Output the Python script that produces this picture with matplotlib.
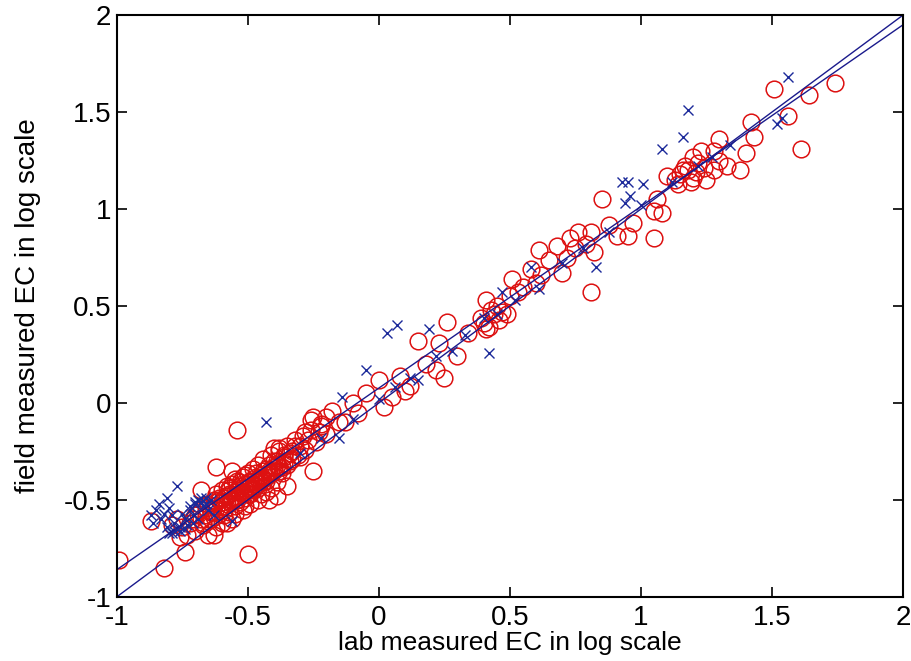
import matplotlib
matplotlib.use("Agg")
import matplotlib.pyplot as plt

plt.rcParams['font.family'] = ['Liberation Sans', 'DejaVu Sans']

# Red circles (lab vs field, log scale)
red_x = [-0.99, -0.82, -0.74, -0.63, -0.50, -0.87, -0.68, -0.62, -0.56, -0.54, -0.40, -0.26,
         -0.25, -0.35, -0.39, -0.42, -0.18, -0.38,
         -0.72, -0.70, -0.70, -0.68, -0.68, -0.67, -0.66, -0.65, -0.65, -0.64, -0.63, -0.63,
         -0.62, -0.62, -0.61, -0.60, -0.60, -0.59, -0.59, -0.58, -0.58, -0.57, -0.57, -0.56,
         -0.56, -0.55, -0.55, -0.54, -0.54, -0.53, -0.53, -0.52, -0.52, -0.51, -0.51, -0.50,
         -0.50, -0.49, -0.49, -0.48, -0.48, -0.47, -0.46, -0.46, -0.45, -0.44, -0.44, -0.43,
         -0.42, -0.41, -0.40, -0.39, -0.38, -0.37, -0.36, -0.35, -0.34, -0.33, -0.32, -0.31,
         -0.30, -0.29, -0.28, -0.27, -0.26, -0.24, -0.23, -0.22, -0.20, -0.75, -0.77, -0.73,
         -0.79, -0.76, -0.71, -0.65, -0.62, -0.58,
         -0.66, -0.64, -0.61, -0.59, -0.57, -0.55, -0.53, -0.52, -0.50, -0.49, -0.47, -0.46,
         -0.45, -0.43, -0.42, -0.41, -0.40, -0.39, -0.38, -0.37, -0.36, -0.35, -0.34, -0.33,
         -0.69, -0.67, -0.63, -0.60, -0.58, -0.56, -0.54, -0.51, -0.48, -0.47, -0.45, -0.43,
         -0.57, -0.55, -0.53, -0.51, -0.49, -0.47, -0.44, -0.42, -0.61, -0.59,
         -0.64, -0.62, -0.60, -0.58, -0.56, -0.54, -0.52, -0.50, -0.48, -0.46, -0.44, -0.42,
         -0.40, -0.38, -0.36, -0.55, -0.53, -0.51, -0.49, -0.47, -0.45, -0.43, -0.41, -0.39,
         -0.25, -0.13, -0.10, -0.05, 0.02, 0.00, 0.08, 0.12, 0.15, 0.22, 0.25, 0.23, 0.26,
         0.30, 0.34, 0.41, -0.15, -0.08, 0.05, 0.18, 0.10, -0.32, -0.28, -0.22, -0.20, -0.30,
         0.39, 0.41, 0.42, 0.46, 0.43, 0.45, 0.40, 0.44, 0.47, 0.49, 0.51, 0.58, 0.61, 0.65,
         0.68, 0.70, 0.72, 0.73, 0.76, 0.79, 0.81, 0.82, 0.81, 0.85, 0.91, 0.95, 0.97, 1.05,
         1.08, 1.06, 1.05, 1.14, 0.55, 0.62, 0.75, 0.88, 0.50, 0.53, 0.60,
         1.51, 1.64, 1.74, 1.56, 1.42, 1.61, 1.43, 1.40, 1.38, 1.30, 1.28, 1.23, 1.20, 1.30,
         1.25, 1.18, 1.28, 1.20, 1.33, 1.15, 1.17, 1.19, 1.22, 1.16, 1.21, 1.13, 1.24, 1.10]
red_y = [-0.81, -0.85, -0.77, -0.68, -0.78, -0.61, -0.45, -0.33, -0.35, -0.14, -0.23, -0.09,
         -0.35, -0.43, -0.48, -0.50, -0.04, -0.23,
         -0.62, -0.58, -0.66, -0.60, -0.55, -0.63, -0.58, -0.52, -0.61, -0.56, -0.50, -0.59,
         -0.54, -0.47, -0.57, -0.51, -0.45, -0.55, -0.49, -0.43, -0.52, -0.47, -0.56, -0.50,
         -0.42, -0.46, -0.53, -0.40, -0.48, -0.44, -0.51, -0.38, -0.46, -0.42, -0.49, -0.36,
         -0.44, -0.40, -0.47, -0.34, -0.42, -0.38, -0.44, -0.32, -0.40, -0.35, -0.29, -0.38,
         -0.32, -0.27, -0.35, -0.30, -0.25, -0.33, -0.28, -0.22, -0.30, -0.25, -0.19, -0.27,
         -0.22, -0.17, -0.24, -0.19, -0.14, -0.20, -0.15, -0.11, -0.16, -0.64, -0.60, -0.68,
         -0.63, -0.69, -0.60, -0.68, -0.64, -0.62,
         -0.54, -0.60, -0.50, -0.58, -0.45, -0.57, -0.41, -0.55, -0.47, -0.52, -0.43, -0.50,
         -0.37, -0.46, -0.36, -0.44, -0.30, -0.41, -0.33, -0.36, -0.31, -0.32, -0.26, -0.29,
         -0.57, -0.62, -0.53, -0.62, -0.48, -0.60, -0.50, -0.53, -0.45, -0.36, -0.47, -0.34,
         -0.44, -0.39, -0.46, -0.37, -0.43, -0.41, -0.39, -0.35, -0.49, -0.53,
         -0.56, -0.51, -0.53, -0.48, -0.50, -0.45, -0.47, -0.42, -0.44, -0.39, -0.41, -0.37,
         -0.33, -0.35, -0.27, -0.49, -0.43, -0.46, -0.41, -0.43, -0.38, -0.40, -0.36, -0.32,
         -0.07, -0.10, 0.00, 0.05, -0.02, 0.12, 0.14, 0.09, 0.32, 0.17, 0.13, 0.31, 0.42,
         0.24, 0.36, 0.38, -0.10, -0.05, 0.03, 0.20, 0.06, -0.22, -0.15, -0.12, -0.07, -0.28,
         0.44, 0.53, 0.39, 0.43, 0.48, 0.50, 0.41, 0.46, 0.47, 0.46, 0.64, 0.69, 0.79, 0.74,
         0.81, 0.67, 0.75, 0.85, 0.88, 0.82, 0.88, 0.78, 0.57, 1.05, 0.86, 0.86, 0.93, 0.99,
         0.98, 1.05, 0.85, 1.13, 0.60, 0.66, 0.80, 0.92, 0.55, 0.57, 0.62,
         1.62, 1.59, 1.65, 1.48, 1.45, 1.31, 1.37, 1.29, 1.20, 1.36, 1.30, 1.30, 1.27, 1.25,
         1.15, 1.20, 1.20, 1.16, 1.22, 1.18, 1.22, 1.14, 1.24, 1.20, 1.19, 1.15, 1.21, 1.17]

# Blue crosses
blue_x = [-0.77, -0.81, -0.84, -0.80, -0.85, -0.82, -0.79, -0.83, -0.78, -0.81, -0.80, -0.76,
          -0.74, -0.72, -0.70, -0.69, -0.67, -0.65, -0.66, -0.63, -0.56, -0.43, -0.87, -0.86,
          -0.75, -0.73, -0.71, -0.68, -0.66, -0.64, -0.77, -0.79, -0.71, -0.69,
          -0.72, -0.70, -0.68, -0.78, -0.76, -0.74,
          -0.14, -0.05, 0.03, 0.07, 0.19, 0.42, -0.15, -0.10, 0.00, 0.06, 0.12, 0.15, 0.22,
          0.28, 0.33, -0.30, -0.22, 0.47, 0.58, 0.61, 0.83, 0.96, 0.94, 1.01, 0.93, 0.95,
          0.70, 0.78, 0.88, 1.00, 1.08, 1.18, 1.16, 1.56, 1.52, 1.54, 1.34, 1.27, 1.22, 1.12,
          0.45, 0.52, 0.40]
blue_y = [-0.43, -0.49, -0.52, -0.54, -0.55, -0.57, -0.58, -0.60, -0.62, -0.64, -0.67, -0.66,
          -0.60, -0.55, -0.52, -0.50, -0.53, -0.55, -0.49, -0.58, -0.61, -0.10, -0.58, -0.62,
          -0.57, -0.63, -0.58, -0.51, -0.52, -0.50, -0.65, -0.67, -0.62, -0.60,
          -0.53, -0.51, -0.49, -0.66, -0.64, -0.65,
          0.03, 0.17, 0.36, 0.40, 0.38, 0.26, -0.18, -0.08, 0.02, 0.08, 0.13, 0.12, 0.24,
          0.27, 0.35, -0.26, -0.18, 0.57, 0.70, 0.59, 0.70, 1.07, 1.03, 1.13, 1.14, 1.14,
          0.72, 0.80, 0.88, 1.02, 1.31, 1.51, 1.37, 1.68, 1.44, 1.47, 1.33, 1.27, 1.22, 1.14,
          0.46, 0.53, 0.44]

# Reference lines
one_x = [-1, 2]
one_y = [-1, 2]
fit_x = [-1, 2]
fit_y = [-0.86, 1.95]

xticks = [-1, -0.5, 0, 0.5, 1, 1.5, 2]
xticklabels = ['-1', '-0.5', '0', '0.5', '1', '1.5', '2']
yticks = [-1, -0.5, 0, 0.5, 1, 1.5, 2]
yticklabels = ['-1', '-0.5', '0', '0.5', '1', '1.5', '2']

fig = plt.figure(figsize=(9.12, 6.61), dpi=100)
ax = fig.add_axes([0.128, 0.097, 0.862, 0.880])

ax.plot(red_x, red_y, linestyle='none', marker='o', markersize=12, markerfacecolor='none',
        markeredgecolor='#dd1111', markeredgewidth=1.1)
ax.plot(blue_x, blue_y, linestyle='none', marker='x', markersize=7,
        markeredgecolor='#1c2a9a', markeredgewidth=1.0)
ax.plot(one_x, one_y, color='#1a1a8c', linewidth=1.0)
ax.plot(fit_x, fit_y, color='#1a1a8c', linewidth=1.0)

ax.set_xlim(-1, 2)
ax.set_ylim(-1, 2)
ax.set_xticks(xticks)
ax.set_xticklabels(xticklabels)
ax.set_yticks(yticks)
ax.set_yticklabels(yticklabels)
ax.tick_params(direction='in', length=7, width=1.2, top=True, right=True,
               labelsize=20, colors='black')
ax.tick_params(axis='x', pad=6)
ax.tick_params(axis='y', pad=4)
for s in ax.spines.values():
    s.set_linewidth(1.5)

ax.set_xlabel('lab measured EC in log scale', fontsize=19, labelpad=0)
ax.set_ylabel('field measured EC in log scale', fontsize=20, labelpad=16)

fig.savefig('out.png', dpi=100)
